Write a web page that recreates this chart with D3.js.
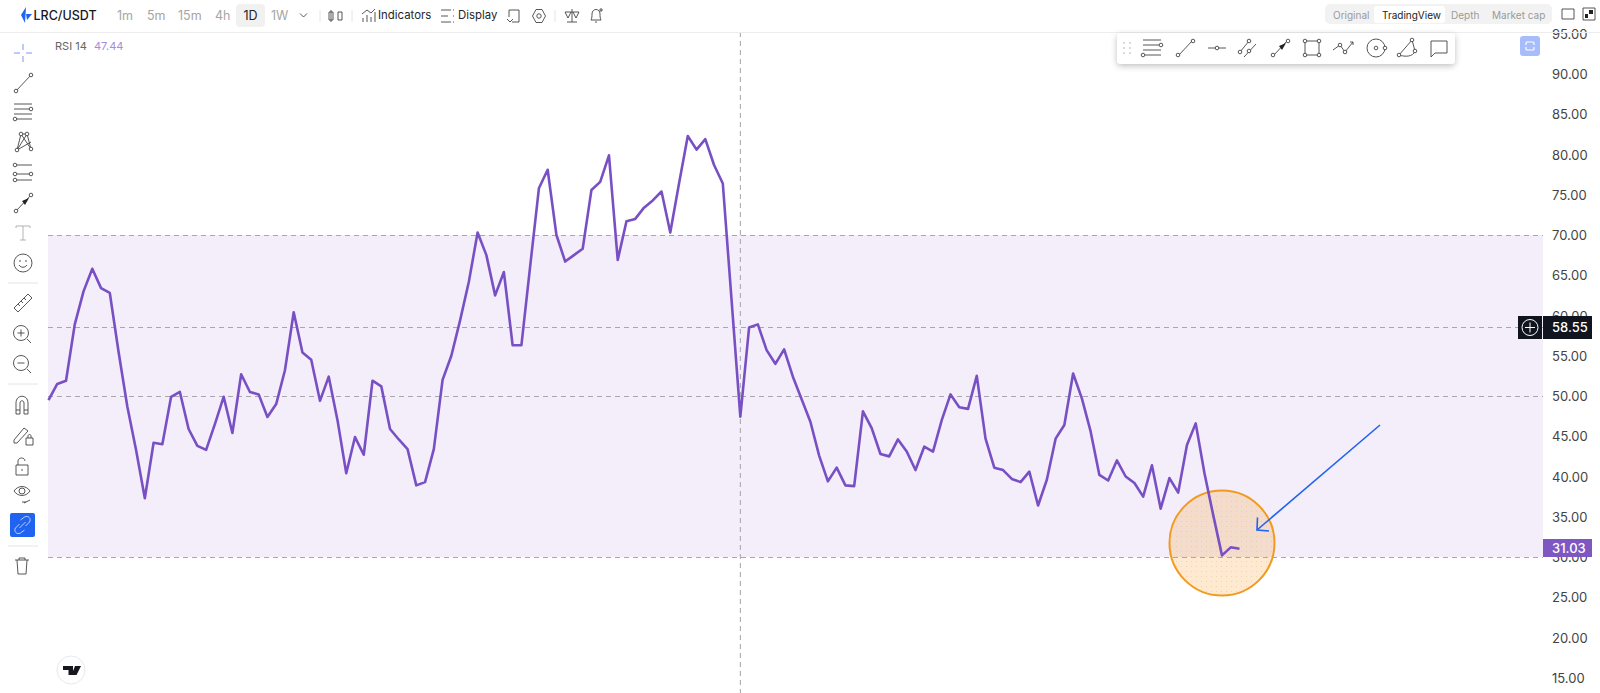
<!DOCTYPE html>
<html>
<head>
<meta charset="utf-8">
<title>LRC/USDT RSI</title>
<script src="https://cdn.jsdelivr.net/npm/d3@7"></script>
<style>
  html, body { margin: 0; padding: 0; background: #fff; overflow: hidden; }
  svg { display: block; font-family: Inter, "Noto Sans", sans-serif; }
  .tool { fill: none; stroke: #444; stroke-width: 0.9; }
  .tool .solid { fill: #222; stroke: none; }
  .tick text { font-family: Inter, sans-serif; }
</style>
</head>
<body>
<div id="chart"></div>
<script>
// Data
var rsiValues = [
  49.5, 51.5, 51.9, 58.9, 63.0, 65.8, 63.4, 62.8, 55.5, 48.7,
  43.3, 37.3, 44.2, 44.0, 49.9, 50.5, 45.9, 43.8, 43.3, 46.5,
  49.9, 45.4, 52.7, 50.5, 50.2, 47.4, 49.0, 53.2, 60.4, 55.4,
  54.5, 49.4, 52.4, 47.0, 40.4, 44.9, 42.7, 51.9, 51.2, 45.9,
  44.6, 43.4, 38.9, 39.3, 43.4, 52.0, 55.0, 59.4, 64.2, 70.3,
  67.5, 62.5, 65.4, 56.3, 56.3, 66.1, 75.8, 78.1, 70.0, 66.7,
  67.5, 68.3, 75.6, 76.6, 79.9, 66.9, 71.7, 72.0, 73.4, 74.3,
  75.4, 70.3, 76.4, 82.3, 80.6, 81.9, 78.7, 76.4, 61.9, 47.44,
  58.5, 58.9, 55.7, 54.0, 55.8, 52.4, 49.6, 46.8, 42.6, 39.4,
  41.1, 38.9, 38.8, 48.1, 46.0, 42.8, 42.5, 44.6, 43.1, 40.8,
  43.7, 43.1, 47.0, 50.2, 48.6, 48.4, 52.5, 44.7, 41.1, 40.8,
  39.7, 39.3, 40.6, 36.4, 39.6, 44.7, 46.4, 52.8, 49.7, 45.6,
  40.2, 39.5, 42.0, 40.0, 39.2, 37.5, 41.4, 36.0, 39.8, 38.0,
  43.9, 46.6, 40.4, 35.2, 30.2, 31.2, 31.03
];
var yTicks = [15, 20, 25, 30, 35, 40, 45, 50, 55, 60, 65, 70, 75, 80, 85, 90, 95];
var bandLevels = [30, 50, 70];
var lastValue = 31.03;
var crosshairIndex = 79;
var crosshairValue = 58.55;
var legendValue = "47.44";
var intervals = ["1m", "5m", "15m", "4h", "1D", "1W"];
var intervalX = [117, 147, 178, 215, 250.5, 271];
var viewTabs = ["Original", "TradingView", "Depth", "Market cap"];
var viewTabX = [1333, 1382, 1451, 1492];

var width = 1600, height = 693;
var plotLeft = 48, plotRight = 1543;
var purple = "#7850c4";

var svg = d3.select("#chart").append("svg")
  .attr("width", width)
  .attr("height", height);

var x = d3.scaleLinear()
  .domain([0, rsiValues.length - 1])
  .range([48.5, 1239.5]);

var y = d3.scaleLinear()
  .domain([50, 70])
  .range([396, 235]);

// Band between 30 and 70
svg.append("rect")
  .attr("x", plotLeft)
  .attr("y", y(70))
  .attr("width", plotRight - plotLeft)
  .attr("height", y(30) - y(70))
  .attr("fill", "#f3eefa");

// Dashed level lines
svg.selectAll(".level")
  .data(bandLevels.concat([crosshairValue]))
  .enter()
  .append("line")
    .attr("class", "level")
    .attr("x1", plotLeft)
    .attr("x2", plotRight)
    .attr("y1", function(d) { return Math.round(y(d)) + 0.5; })
    .attr("y2", function(d) { return Math.round(y(d)) + 0.5; })
    .attr("stroke", "#a9a6ad")
    .attr("stroke-width", 1)
    .attr("stroke-dasharray", "5,4");

// Vertical crosshair
svg.append("line")
  .attr("x1", x(crosshairIndex))
  .attr("x2", x(crosshairIndex))
  .attr("y1", 32)
  .attr("y2", height)
  .attr("stroke", "#a3a3a8")
  .attr("stroke-dasharray", "5,4");

// Right axis
var axis = d3.axisRight(y)
  .tickValues(yTicks)
  .tickFormat(d3.format(".2f"))
  .tickSize(0)
  .tickPadding(9);
var axisG = svg.append("g")
  .attr("transform", "translate(" + plotRight + ",0.5)")
  .call(axis);
axisG.select(".domain").remove();
axisG.selectAll("text")
  .style("font-size", "13px")
  .style("fill", "#444");

// Orange circle goes under the line, with a faint dot texture
var defs = svg.append("defs");
var dots = defs.append("pattern").attr("id", "dots")
  .attr("width", 5).attr("height", 5)
  .attr("patternUnits", "userSpaceOnUse");
dots.append("circle").attr("cx", 1.5).attr("cy", 1.5).attr("r", 0.5)
  .attr("fill", "#f0b878").attr("fill-opacity", 0.6);

svg.append("circle")
  .attr("cx", x(134))
  .attr("cy", 543)
  .attr("r", 52.5)
  .attr("fill", "#f9a12e")
  .attr("fill-opacity", 0.22);
svg.append("circle")
  .attr("cx", x(134))
  .attr("cy", 543)
  .attr("r", 52.5)
  .attr("fill", "url(#dots)")
  .attr("stroke", "#f39a1e")
  .attr("stroke-width", 2);

// RSI line
var line = d3.line()
  .x(function(d, i) { return x(i); })
  .y(function(d) { return y(d); });

svg.append("path")
  .datum(rsiValues)
  .attr("d", line)
  .attr("fill", "none")
  .attr("stroke", purple)
  .attr("stroke-width", 2.6)
  .attr("stroke-linejoin", "round");

// Blue arrow
var arrowG = svg.append("g")
  .attr("fill", "none")
  .attr("stroke", "#1f63f0")
  .attr("stroke-width", 1.6);
arrowG.append("path").attr("d", "M1380,425L1257,530");
arrowG.append("path").attr("d", "M1257.5,517.5L1257,530L1269,531");

// Price badges
function badge(val, top, h, fill, color) {
  svg.append("rect")
    .attr("x", plotRight).attr("y", top)
    .attr("width", 49).attr("height", h)
    .attr("fill", fill);
  svg.append("text")
    .attr("x", 1552).attr("y", top + h / 2 + 4.5)
    .attr("font-size", 13)
    .attr("font-weight", 500)
    .attr("fill", color)
    .text(val);
}
svg.append("rect").attr("x", 1518).attr("y", 316)
  .attr("width", 24).attr("height", 23).attr("fill", "#10141f");
svg.append("circle").attr("cx", 1530).attr("cy", 327.5).attr("r", 8)
  .attr("fill", "none").attr("stroke", "#fff");
svg.append("path").attr("d", "M1525,327.5H1535M1530,322.5V332.5")
  .attr("stroke", "#fff");
badge(crosshairValue.toFixed(2), 316, 23, "#10141f", "#fff");
badge(lastValue.toFixed(2), 539, 18, "#7e57c2", "#fff");

// Legend
svg.append("text").attr("x", 55).attr("y", 50)
  .attr("font-size", 11).attr("fill", "#666").text("RSI 14");
svg.append("text").attr("x", 94).attr("y", 50)
  .attr("font-size", 11).attr("fill", "#a58bd8").text(legendValue);

// Top bar
svg.append("line").attr("x1", 0).attr("x2", width)
  .attr("y1", 32.5).attr("y2", 32.5).attr("stroke", "#ededed");
svg.append("path").attr("d", "M21,15L26,7L25,23Z").attr("fill", "#1f63f0");
svg.append("path").attr("d", "M26,14L32,14L27,20Z").attr("fill", "#1f63f0");
svg.append("text").attr("x", 33.5).attr("y", 19.5)
  .attr("font-size", 12.5).attr("font-weight", 500).attr("fill", "#16181d").text("LRC/USDT");

svg.append("rect").attr("x", 236).attr("y", 4)
  .attr("width", 29).attr("height", 23).attr("rx", 4).attr("fill", "#f1f1f1");
svg.selectAll(".interval")
  .data(intervals)
  .enter()
  .append("text")
    .attr("class", "interval")
    .attr("x", function(d, i) { return intervalX[i]; })
    .attr("y", 19.5)
    .attr("font-size", 12.5)
    .attr("text-anchor", function(d) { return d == "1D" ? "middle" : "start"; })
    .attr("fill", function(d) { return d == "1D" ? "#222" : "#a5a5a5"; })
    .text(function(d) { return d; });
svg.append("path").attr("d", "M300,13.5L303.5,17L307,13.5").attr("class", "tool");

svg.append("text").attr("x", 378).attr("y", 19).attr("font-size", 11.4)
  .attr("fill", "#24262b").text("Indicators");
svg.append("text").attr("x", 458).attr("y", 19).attr("font-size", 11.4)
  .attr("fill", "#24262b").text("Display");

// Small separators in the top bar
[320, 352, 555].forEach(function(sx) {
  svg.append("line").attr("x1", sx).attr("x2", sx).attr("y1", 10).attr("y2", 22)
    .attr("stroke", "#e4e4e4");
});

// Tab control
svg.append("rect").attr("x", 1325).attr("y", 4).attr("width", 227).attr("height", 20)
  .attr("rx", 5).attr("fill", "#f2f2f2");
svg.append("rect").attr("x", 1374).attr("y", 6).attr("width", 71).attr("height", 17)
  .attr("rx", 3).attr("fill", "#fff");
svg.selectAll(".tab")
  .data(viewTabs)
  .enter()
  .append("text")
    .attr("class", "tab")
    .attr("x", function(d, i) { return viewTabX[i]; })
    .attr("y", 18.5)
    .attr("font-size", 10)
    .attr("fill", function(d) { return d == "TradingView" ? "#222" : "#9a9a9a"; })
    .text(function(d) { return d; });

// Icons: one small path per tool
function icon(cx, cy, d, dots) {
  var g = svg.append("g").attr("class", "tool")
    .attr("transform", "translate(" + cx + "," + cy + ")");
  g.append("path").attr("d", d);
  (dots || []).forEach(function(p) {
    g.append("circle").attr("cx", p[0]).attr("cy", p[1]).attr("r", 1.8).attr("fill", "#fff");
  });
  return g;
}

var iconLine = "M-7,8L8,-8";
var iconLines = "M-9,-8H9M-9,-3H7M-9,2H9M-7,7H9";
var iconArrow = "M-7,8L8,-8";

// Top bar icons
icon(335, 16, "M-4,-6V6M-6,-4h4v8h-4zM3,-4h4v8h-4z");
icon(369, 16, "M-6,6V2M-2,6V-1M2,6V1M6,6V-4M-7,-2L-2,-6L2,-3L6,-7");
icon(447, 16, "M-6,-6H4M-6,0H1M-6,6H4M6,-6h1M6,0h1M6,6h1");
icon(514, 16, "M-5,-6H5V6H-2M-5,-6V1M-7,3L-4,6L-1,3");
var gear = icon(539, 16, "M-3,-6.5H3L6.5,0L3,6.5H-3L-6.5,0Z");
gear.append("circle").attr("r", 2.2);
icon(572, 16, "M0,-7V6M-5,6H5M-7,-4H7M-7,-4L-4,2L-1,-4M1,-4L4,2L7,-4");
icon(596, 16, "M-5,4C-4,2 -4,0 -4,-2C-4,-8 4,-8 4,-2C4,0 4,2 5,4ZM-1,6H1M5,-8V-4M3,-6H7");
icon(1568, 14, "M-6,-5H6V5H-6Z");
var full = icon(1589, 14, "M-6,-6H6V6H-6Z");
full.append("path").attr("class", "solid").attr("d", "M0,-4H4V0H0ZM-4,0H-1V4H-4Z");

// Left toolbar
var cross = icon(23, 53, "M0,-9V-3M0,3V9M-9,0H-3M3,0H9");
cross.select("path").attr("stroke", "#bccbfa").attr("stroke-width", 2);
icon(23, 83, iconLine, [[-7, 8], [8, -8]]);
icon(23, 112, iconLines, [[8, -3], [-8, 7]]);
icon(23, 142, "M-6,8L-2,-8L4,-8L8,7M-6,8L4,-8M-2,-8L8,7M-6,8L8,0", [[-6, 8], [-2, -8], [4, -8], [8, 7]]);
icon(23, 173, "M-6,-8H9M-6,1H9M-6,7H9", [[-8, -8], [-8, 1], [-8, 7], [8, 1]]);
var arr = icon(23, 203, iconArrow, [[-7, 8], [8, -8]]);
arr.append("path").attr("class", "solid").attr("d", "M6,-5L-1,-2L2,2Z");
icon(23, 233, "M-7,-7V-5M-7,-7H7V-5M0,-7V7M-3,7H3").select("path").attr("stroke", "#aaa");
var smile = icon(23, 263, "M-4,2C-2,5 2,5 4,2M-3,-3V-1M3,-3V-1");
smile.append("circle").attr("r", 9);
icon(23, 303, "M-9,5L5,-9L9,-5L-5,9ZM-5,1L-3,3M-2,-2L0,0M1,-5L3,-3");
var zin = icon(21, 333, "M-3.5,0H3.5M0,-3.5V3.5M6,6L10,10");
zin.append("circle").attr("r", 7.5);
var zout = icon(21, 363, "M-3.5,0H3.5M6,6L10,10");
zout.append("circle").attr("r", 7.5);
icon(22, 405, "M-6,9V-2C-6,-11 6,-11 6,-2V9H2V-2C2,-5 -2,-5 -2,-2V9ZM-6,5H-2M2,5H6");
icon(22, 435, "M-8,5L2,-7L6,-4L-5,8H-8ZM4,3H11V10H4ZM6,3V1C6,-1 9,-1 9,1V3");
icon(22, 466, "M-6,-1H6V9H-6ZM-4,-1V-5C-4,-9 3,-9 3,-5M0,3V5");
var eye = icon(22, 494, "M-8,-3C-4,-9 4,-9 8,-3C4,3 -4,3 -8,-3ZM2,9L8,6M0,8H4");
eye.append("circle").attr("cy", -3).attr("r", 3);

svg.append("rect").attr("x", 10).attr("y", 513).attr("width", 25).attr("height", 24)
  .attr("rx", 2).attr("fill", "#1f63f0");
icon(22.5, 525, "M-2,-5L2,-8C6,-10 9,-6 7,-3L3,1M2,5L-2,8C-6,10 -9,6 -7,3L-3,-1M-3,3L3,-3")
  .select("path").attr("stroke", "#cfdcff");
icon(22, 566, "M-7,-6H7M-3,-6V-8H3V-6M-5,-6L-4,8H4L5,-6");

[283, 384, 546].forEach(function(sy) {
  svg.append("line").attr("x1", 8).attr("x2", 38).attr("y1", sy).attr("y2", sy)
    .attr("stroke", "#e4e4ec");
});

// TV logo
svg.append("circle").attr("cx", 71).attr("cy", 670).attr("r", 14)
  .attr("fill", "#fff").attr("stroke", "#e8e8ee");
svg.append("path").attr("d", "M63,666H73V675H68.5V670H63ZM75,666H81L76.5,675H71.5Z").attr("fill", "#16181d");

// Floating drawing toolbar
var shadow = defs.append("filter").attr("id", "shadow")
  .attr("x", "-5%").attr("y", "-30%").attr("width", "110%").attr("height", "170%");
shadow.append("feDropShadow").attr("dx", 0).attr("dy", 2).attr("stdDeviation", 3)
  .attr("flood-color", "#000").attr("flood-opacity", 0.25);
svg.append("rect").attr("x", 1117).attr("y", 33).attr("width", 338).attr("height", 31)
  .attr("rx", 4).attr("fill", "#fff").attr("filter", "url(#shadow)");
[[-3, -5], [3, -5], [-3, 0], [3, 0], [-3, 5], [3, 5]].forEach(function(p) {
  svg.append("circle").attr("cx", 1127 + p[0]).attr("cy", 48 + p[1]).attr("r", 0.9).attr("fill", "#c9c9c9");
});
icon(1152, 48, iconLines, [[9, -3], [-9, 7]]);
icon(1185, 48, iconLine, [[-7, 7], [8, -7]]);
icon(1217, 48, "M-9,0H9", [[0, 0]]);
icon(1248, 48, "M-8,4L1,-7M-4,9L8,-4", [[-8, 4], [1, -7], [1, 3]]);
var arr2 = icon(1280, 48, iconArrow, [[-7, 7], [8, -7]]);
arr2.append("path").attr("class", "solid").attr("d", "M6,-5L-1,-2L2,2Z");
icon(1312, 48, "M-7,-7H7V7H-7Z", [[-7, -7], [7, -7], [-7, 7], [7, 7]]);
icon(1343, 48, "M-10,2L-3,-3L2,4L10,-6M7,-6H10V-3", [[-3, -3], [2, 4]]);
var ring = icon(1376, 48, "M0,0", [[0, 0], [9, 0]]);
ring.append("circle").attr("r", 9).lower();
icon(1407, 48, "M-8,7L5,-8L8,3C6,9 -2,9 -8,7Z", [[-8, 7], [5, -8], [8, 3]]);
icon(1439, 48, "M-8,-7H8V5H-4L-8,9Z");

svg.append("rect").attr("x", 1520).attr("y", 36).attr("width", 20).attr("height", 20)
  .attr("rx", 3).attr("fill", "#a6bcfb");
svg.append("path").attr("d", "M1526,45V43Q1526,42 1527,42H1533Q1534,42 1534,43V45M1526,47V49Q1526,50 1527,50H1533Q1534,50 1534,49V47")
  .attr("fill", "none").attr("stroke", "#fff").attr("stroke-width", 1.2);
</script>
</body>
</html>
